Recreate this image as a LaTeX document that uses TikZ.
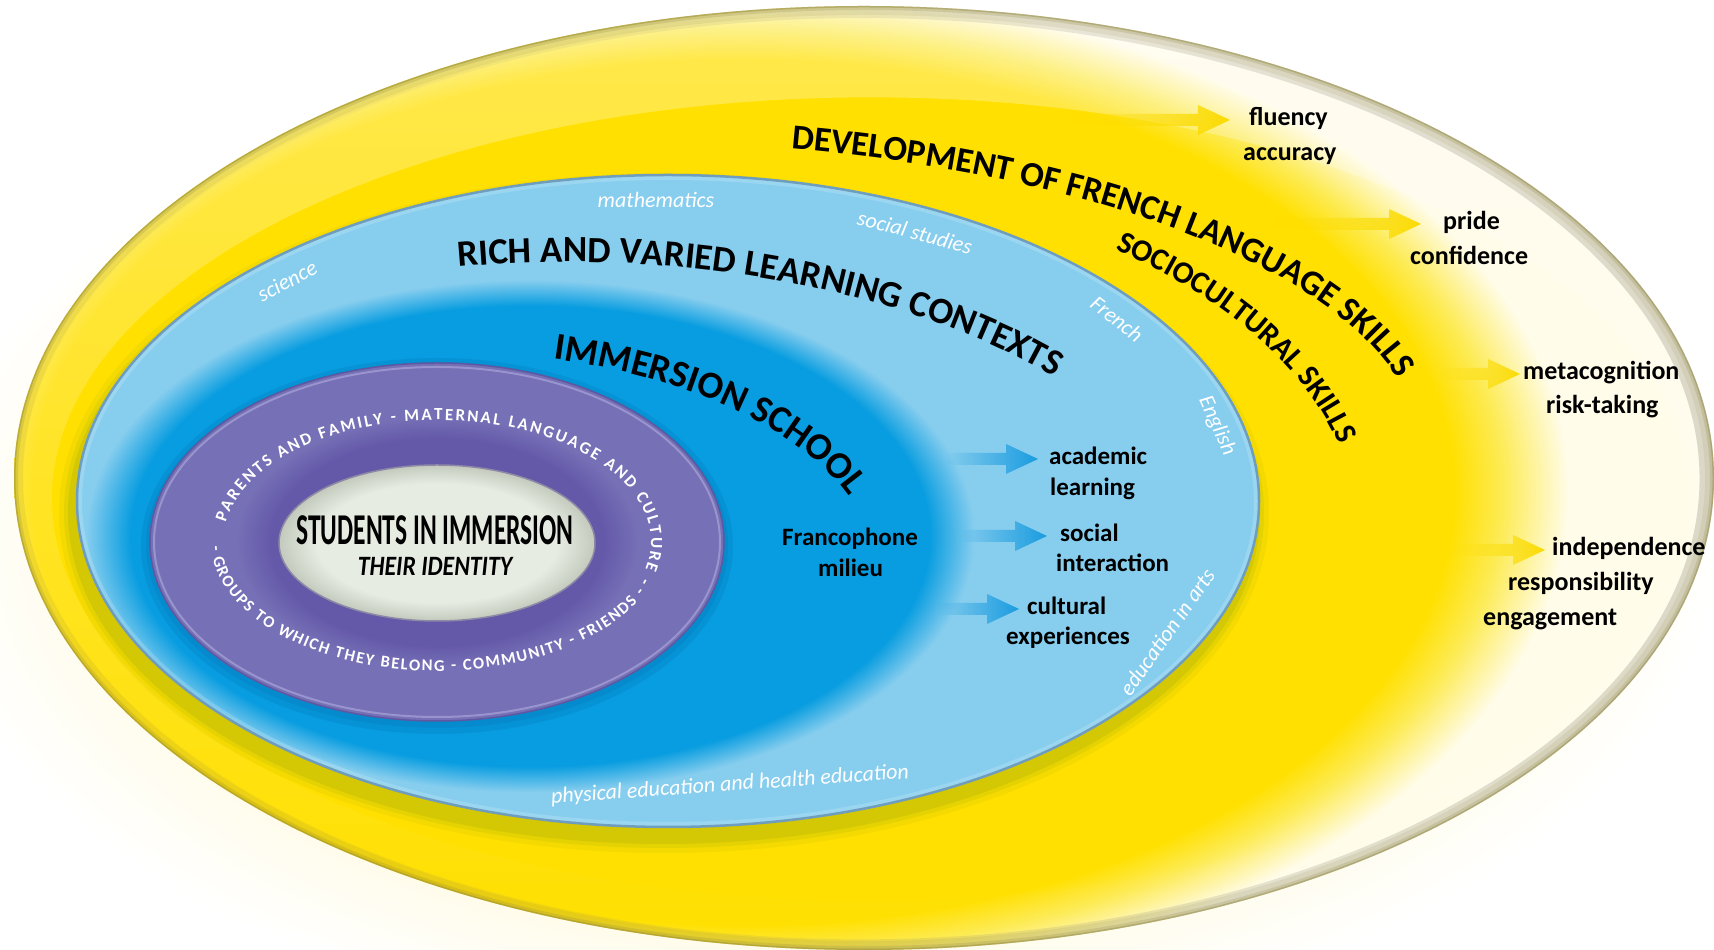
\documentclass[tikz,border=0pt]{standalone}
\usepackage{fontspec}
\setmainfont{Carlito}
\usepackage{graphicx}
\usetikzlibrary{decorations.text,fadings,calc}

\definecolor{Ysat}{HTML}{FFE000}
\definecolor{Ylight}{HTML}{FDEB55}
\definecolor{Cream}{HTML}{FFFCEA}
\definecolor{RimOlive}{HTML}{8F8530}
\definecolor{RimGrey}{HTML}{8A8670}
\definecolor{ShadowGreen}{HTML}{7E9A10}
\definecolor{Blight}{HTML}{86CDEE}
\definecolor{Bmed}{HTML}{089DE0}
\definecolor{Brim}{HTML}{6F9DBD}
\definecolor{Bshadow}{HTML}{0060A0}
\definecolor{Purp}{HTML}{7670B6}
\definecolor{PurpDark}{HTML}{6459A9}
\definecolor{PurpHi}{HTML}{A29ED4}
\definecolor{PurpRim}{HTML}{5F58A0}
\definecolor{Core}{HTML}{E6ECE2}
\definecolor{CoreEdge}{HTML}{C3CABD}
\definecolor{CoreRim}{HTML}{8C88A6}
\definecolor{Barrow}{HTML}{1A9CE0}
\definecolor{Yarrow}{HTML}{FBDB00}

\pgfdeclareradialshading{yelshade}{\pgfpoint{0bp}{0bp}}{color(0bp)=(Ysat); color(21.5bp)=(Ysat); color(23bp)=(Ylight); color(25bp)=(Cream); color(50bp)=(Cream)}
\pgfdeclareradialshading{glowshade}{\pgfpoint{0bp}{0bp}}{color(0bp)=(Cream); color(20bp)=(Cream); color(25bp)=(white); color(50bp)=(white)}
\pgfdeclareradialshading{medblue}{\pgfpoint{0bp}{0bp}}{color(0bp)=(Bmed); color(22.5bp)=(Bmed); color(25bp)=(Blight); color(50bp)=(Blight)}
\pgfdeclareradialshading{purpshade}{\pgfpoint{0bp}{0bp}}{color(0bp)=(PurpDark); color(14.5bp)=(PurpDark); color(17.5bp)=(Purp); color(50bp)=(Purp)}
\pgfdeclareradialshading{coreshade}{\pgfpoint{0bp}{0bp}}{color(0bp)=(Core); color(19bp)=(Core); color(25bp)=(CoreEdge); color(50bp)=(CoreEdge)}
\tikzfading[name=rimfade, left color=transparent!0, right color=transparent!100]

\newcommand{\ttlfont}{\fontsize{35}{35}\selectfont\bfseries}
\newcommand{\ttlfontb}{\fontsize{37}{37}\selectfont\bfseries}
\newcommand{\ttlfontc}{\fontsize{38}{38}\selectfont\bfseries}
\newcommand{\ttlfontd}{\fontsize{31}{31}\selectfont\bfseries}
\newcommand{\ringfont}{\fontsize{17}{17}\selectfont\bfseries\color{white}}
\newcommand{\ringfontb}{\fontsize{16.5}{16.5}\selectfont\bfseries\color{white}}

\newcommand{\fatarrow}[4]{%
  \fill[#1] let \p1=(#2), \p2=($(#3.west)+(-#4,0)$) in
    (\x1,\y2+6) -- (\x2-32,\y2+6) -- (\x2-32,\y2+15) -- (\x2,\y2) --
    (\x2-32,\y2-15) -- (\x2-32,\y2-6) -- (\x1,\y2-6) -- cycle;}

\begin{document}
\begin{tikzpicture}[x=1pt,y=1pt,
  lab/.style={font=\fontsize{26}{26}\selectfont\bfseries, anchor=west, inner sep=0pt, text height=17pt, text depth=5pt},
  blab/.style={font=\fontsize{25}{25}\selectfont\bfseries, anchor=west, inner sep=0pt, text height=17pt, text depth=5pt},
  subj/.style={font=\fontsize{22}{22}\selectfont\itshape, text=white, inner sep=0pt},
  yarr/.style={fill=Yarrow, path fading=west},
  barr/.style={fill=Barrow, path fading=west},
]
\useasboundingbox (0,0) rectangle (1714,950);
\fill[white] (0,0) rectangle (1714,950);

\begin{scope}
\clip (0,0) rectangle (1714,950);
% glow
\shade[shading=glowshade] (-80,-90) rectangle (1720,910);
% outer yellow ellipse
\begin{scope}
  \clip (864,472) ellipse [x radius=850, y radius=472];
  \fill[Cream] (0,0) rectangle (1714,950);
  \shade[shading=yelshade] (-83,-45) rectangle (1569,961);
  % lighter top band between the two outer rims
  \fill[white, opacity=.3, even odd rule, path fading=south]
    (864,472) ellipse [x radius=850, y radius=472]
    (871,452) ellipse [x radius=819, y radius=402];
  \draw[RimOlive, line width=14, opacity=.12, path fading=rimfade, fading transform={xshift=200}] (871,452) ellipse [x radius=819, y radius=402];
  \draw[RimOlive, line width=5, opacity=.3, path fading=rimfade, fading transform={xshift=200}] (871,452) ellipse [x radius=819, y radius=402];
  \draw[RimOlive, line width=18, opacity=.12] (864,472) ellipse [x radius=850, y radius=472];
  \draw[RimOlive, line width=8, opacity=.22] (864,472) ellipse [x radius=850, y radius=472];
  \draw[RimOlive, line width=3, opacity=.4] (864,472) ellipse [x radius=850, y radius=472];
  \draw[RimGrey, line width=22, opacity=.3, path fading=west] (864,472) ellipse [x radius=850, y radius=472];
\end{scope}
\end{scope}

% blue ellipse shadow
\foreach \d/\o in {14/.08, 9/.12, 5/.16}
  \fill[ShadowGreen, opacity=\o] (664,437) ellipse [x radius=591+\d, y radius=326+\d];
% light blue ellipse
\fill[Blight] (668,449) ellipse [x radius=591, y radius=326];
\begin{scope}
  \clip (668,449) ellipse [x radius=591, y radius=326];
  \shade[shading=medblue] (86,158) rectangle (974,670);
  \draw[white, line width=10, opacity=.18] (668,449) ellipse [x radius=591, y radius=326];
\end{scope}
\draw[Brim, line width=2.5] (668,449) ellipse [x radius=591, y radius=326];

% purple ellipse
\fill[Bshadow, opacity=.15] (437,404) ellipse [x radius=296, y radius=188];
\fill[Bshadow, opacity=.15] (437,405) ellipse [x radius=291, y radius=183];
\shade[shading=purpshade] (437,408) ellipse [x radius=287, y radius=179];
\draw[PurpHi, line width=2, opacity=.8] (437,408) ellipse [x radius=283, y radius=175];
\draw[PurpRim, line width=1.5] (437,408) ellipse [x radius=287, y radius=179];

% core ellipse
\shade[shading=coreshade] (437,407) ellipse [x radius=158, y radius=78];
\draw[CoreRim, line width=1.5] (437,407) ellipse [x radius=158, y radius=78];

\node[inner sep=0pt] (students) at (435,420) {\scalebox{0.58}[1]{\fontsize{44}{44}\selectfont\bfseries STUDENTS IN IMMERSION}};
\node[inner sep=0pt] (identity) at (435,384) {\scalebox{0.85}[1]{\fontsize{28}{28}\selectfont\bfseries\itshape THEIR IDENTITY}};

% ring texts
\path[decorate, decoration={text along path, text align={fit to path},
  text={|\ringfont|PARENTS AND FAMILY - MATERNAL LANGUAGE AND CULTURE -}}]
  (437,408) ++(171:214 and 122) arc[start angle=171, end angle=-19, x radius=214, y radius=122];
\path[decorate, decoration={text along path, text align={fit to path},
  text={|\ringfontb|- GROUPS TO WHICH THEY BELONG - COMMUNITY - FRIENDS -}}]
  (437,408) ++(182:226 and 129) arc[start angle=182, end angle=337, x radius=226, y radius=129];

% curved titles
\path[decorate, decoration={text along path, text align={left},
  text={|\ttlfont|DEVELOPMENT OF FRENCH LANGUAGE SKILLS}}]
  (612,497) ++(77.2:809 and 312) arc[start angle=77.2, end angle=-5, x radius=809, y radius=312];
\path[decorate, decoration={text along path, text align={left},
  text={|\ttlfontd|SOCIOCULTURAL SKILLS}}]
  (678,425) ++(49.8:678 and 361) arc[start angle=49.8, end angle=-15, x radius=678, y radius=361];
\path[decorate, decoration={text along path, text align={left},
  text={|\ttlfontb|RICH AND VARIED LEARNING CONTEXTS}}]
  (568,338) ++(99.6:656 and 350) arc[start angle=99.6, end angle=15, x radius=656, y radius=350];
\path[decorate, decoration={text along path, text align={left},
  text={|\ttlfontc|IMMERSION SCHOOL}}]
  (437,380) ++(74.5:437 and 219) arc[start angle=74.5, end angle=-10, x radius=437, y radius=219];

% subjects
\node[subj] (math) at (656,750) {mathematics};
\node[subj, rotate=28] (science) at (287,669) {science};
\node[subj, rotate=-15] (social) at (915,718) {social studies};
\node[subj, rotate=-38] (french) at (1117,631) {French};
\node[subj, rotate=-66] (english) at (1217,524) {English};
\node[subj, rotate=55] (arts) at (1167,318) {education in arts};
\node[subj, rotate=4] (phys) at (730,165) {physical education and health education};

% labels
\node[lab] (fluency) at (1249,830) {fluency};
\node[lab] (accuracy) at (1243,795) {accuracy};
\node[lab] (pride) at (1443,726) {pride};
\node[lab] (confidence) at (1410,691) {confidence};
\node[lab] (meta) at (1523,576) {metacognition};
\node[lab] (risk) at (1546,542) {risk-taking};
\node[lab] (indep) at (1552,400) {independence};
\node[lab] (resp) at (1508,365) {responsibility};
\node[lab] (engag) at (1483,330) {engagement};
\node[blab] (academic) at (1049,491) {academic};
\node[blab] (learning) at (1050,460) {learning};
\node[blab] (soc) at (1060,414) {social};
\node[blab] (inter) at (1056,384) {interaction};
\node[blab] (cult) at (1027,341) {cultural};
\node[blab] (exper) at (1006,311) {experiences};
\node[blab] (franco) at (782,410) {Francophone};
\node[blab] (milieu) at (818,379) {milieu};

% arrow tails
\coordinate (ty1) at (1071,828);
\coordinate (ty2) at (1273,724);
\coordinate (ty3) at (1441,576);
\coordinate (ty4) at (1454,400);
\coordinate (tb1) at (946,491);
\coordinate (tb2) at (960,415);
\coordinate (tb3) at (938,342);

\fatarrow{yarr}{ty1}{fluency}{19}
\fatarrow{yarr}{ty2}{pride}{22}
\fatarrow{yarr}{ty3}{meta}{3}
\fatarrow{yarr}{ty4}{indep}{7}
\fatarrow{barr}{tb1}{academic}{11}
\fatarrow{barr}{tb2}{soc}{13}
\fatarrow{barr}{tb3}{cult}{8}
\end{tikzpicture}
\end{document}
